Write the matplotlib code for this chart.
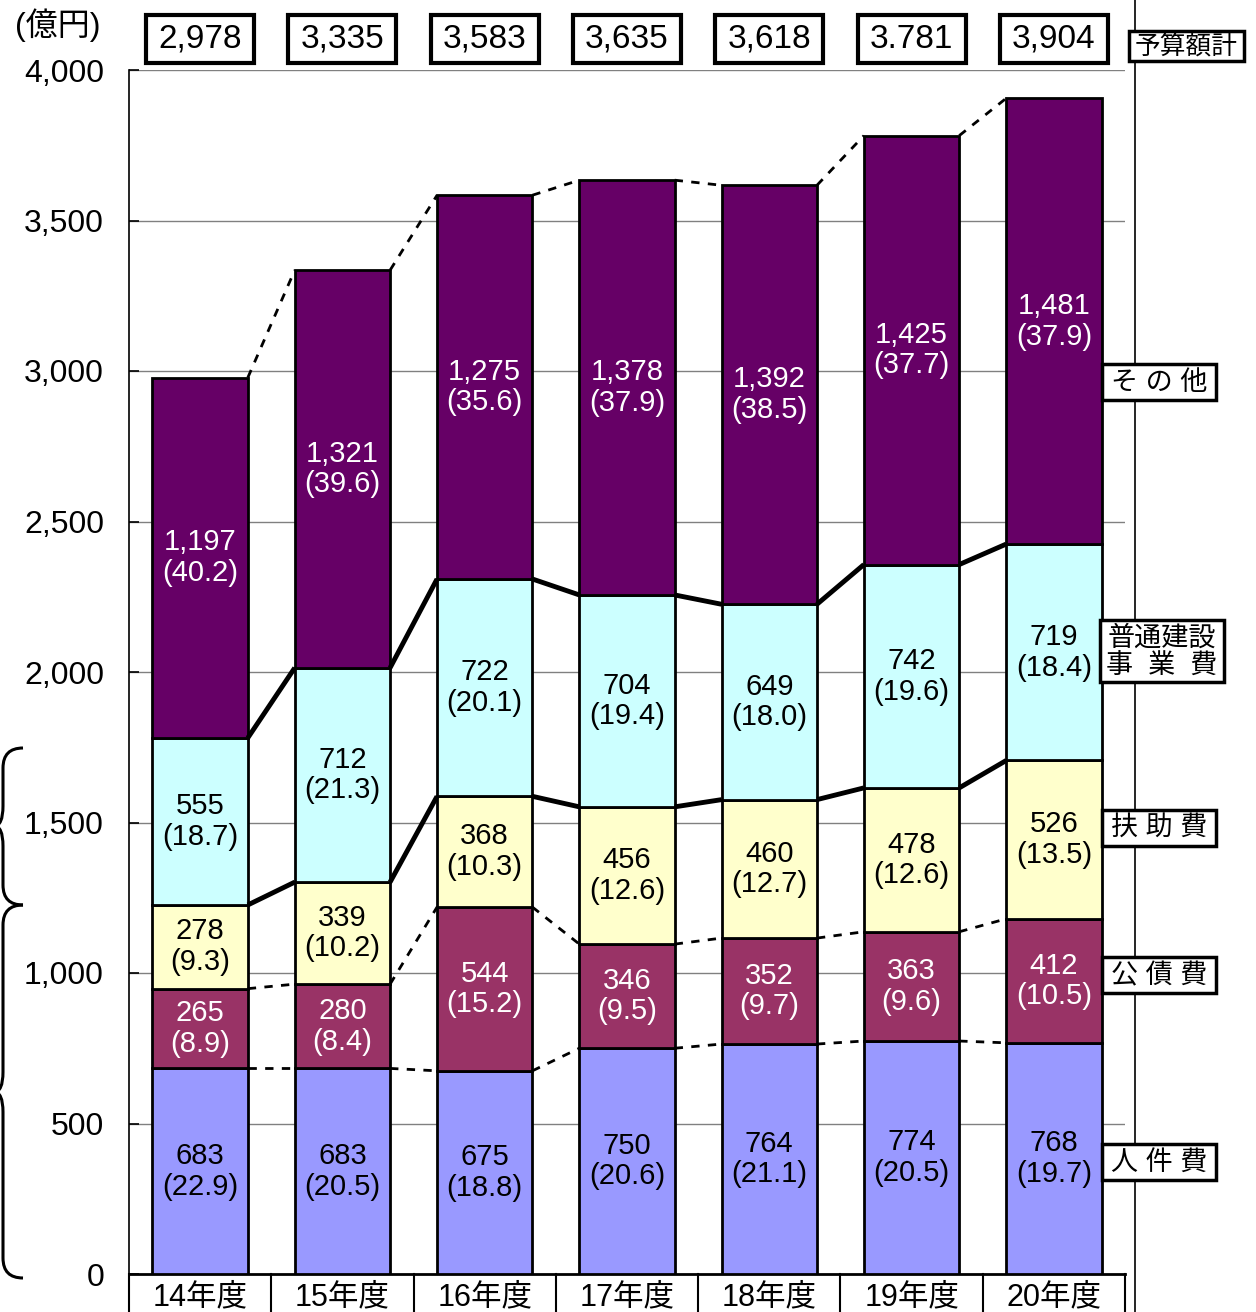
import matplotlib
matplotlib.use('Agg')
import matplotlib.pyplot as plt
from matplotlib.patches import Rectangle, PathPatch
from matplotlib.path import Path
from matplotlib.lines import Line2D
import matplotlib.transforms as mtrans

plt.rcParams['font.family'] = ['Liberation Sans', 'Noto Sans CJK JP', 'DejaVu Sans']

# ---------------- data ----------------
years = ['14年度', '15年度', '16年度', '17年度', '18年度', '19年度', '20年度']
jinken = [683, 683, 675, 750, 764, 774, 768]
jinken_pct = [22.9, 20.5, 18.8, 20.6, 21.1, 20.5, 19.7]
kousai = [265, 280, 544, 346, 352, 363, 412]
kousai_pct = [8.9, 8.4, 15.2, 9.5, 9.7, 9.6, 10.5]
fujo = [278, 339, 368, 456, 460, 478, 526]
fujo_pct = [9.3, 10.2, 10.3, 12.6, 12.7, 12.6, 13.5]
futsu = [555, 712, 722, 704, 649, 742, 719]
futsu_pct = [18.7, 21.3, 20.1, 19.4, 18.0, 19.6, 18.4]
sonota = [1197, 1321, 1275, 1378, 1392, 1425, 1481]
sonota_pct = [40.2, 39.6, 35.6, 37.9, 38.5, 37.7, 37.9]
totals = [2978, 3335, 3583, 3635, 3618, 3781, 3904]
total_labels = ['2,978', '3,335', '3,583', '3,635', '3,618', '3.781', '3,904']
yticks = [0, 500, 1000, 1500, 2000, 2500, 3000, 3500, 4000]
ytick_labels = ['0', '500', '1,000', '1,500', '2,000', '2,500', '3,000', '3,500', '4,000']

series = [
    ('人件費', jinken, jinken_pct, '#9999FF', 'black'),
    ('公債費', kousai, kousai_pct, '#993366', 'white'),
    ('扶助費', fujo, fujo_pct, '#FFFFCC', 'black'),
    ('普通建設事業費', futsu, futsu_pct, '#CCFFFF', 'black'),
    ('その他', sonota, sonota_pct, '#660066', 'white'),
]
legend_texts = ['人 件 費', '公 債 費', '扶 助 費', '普通建設\n事  業  費', 'そ の 他']
legend_centers_px = [(1159, 1162), (1159, 975), (1159, 828), (1162, 651), (1159, 382)]
legend_sizes_px = [(114, 36), (114, 36), (114, 36), (124, 62), (114, 36)]

# ---------------- figure ----------------
W, H = 1256, 1312
fig = plt.figure(figsize=(W / 100, H / 100), dpi=100)
ax_l, ax_r, ax_t, ax_b = 129, 1125, 70, 1274
ax = fig.add_axes([ax_l / W, 1 - ax_b / H, (ax_r - ax_l) / W, (ax_b - ax_t) / H])

n = len(years)
x = list(range(n))
bw = 0.67
ax.set_xlim(-0.5, n - 0.5)
ax.set_ylim(0, 4000)

# grid
for yv in yticks[1:]:
    ax.axhline(yv, color='#808080', lw=1.0, zorder=0)

bottoms = [0] * n
tops_per_layer = []
for name, vals, pcts, col, tcol in series:
    ax.bar(x, vals, bw, bottom=bottoms, color=col, edgecolor='black', lw=2.0, zorder=3)
    for i in range(n):
        yc = bottoms[i] + vals[i] / 2
        ax.text(x[i], yc, f'{vals[i]:,}\n({pcts[i]:.1f})', ha='center', va='center',
                color=tcol, fontsize=21, linespacing=1.12, zorder=5)
    bottoms = [b + v for b, v in zip(bottoms, vals)]
    tops_per_layer.append(list(bottoms))

# connecting lines: layer tops
line_styles = ['dotted', 'dotted', 'solid', 'solid', 'dotted']
for tops, st in zip(tops_per_layer, line_styles):
    for i in range(n - 1):
        xs = [x[i] + bw / 2, x[i + 1] - bw / 2]
        ys = [tops[i], tops[i + 1]]
        if st == 'solid':
            ax.plot(xs, ys, color='black', lw=3.5, solid_capstyle='butt', zorder=4)
        else:
            ax.plot(xs, ys, color='black', lw=2.0, linestyle=(0, (3, 3)), zorder=4)

# axes styling
for s in ['top', 'right']:
    ax.spines[s].set_visible(False)
ax.spines['left'].set_linewidth(1.2)
ax.spines['bottom'].set_linewidth(2.0)
ax.set_yticks(yticks)
ax.set_yticklabels(ytick_labels, fontsize=23)
ax.tick_params(axis='y', direction='in', length=7, width=1.2, pad=18)
ax.set_xticks([])

# category boxes under the axis
trans_xb = mtrans.blended_transform_factory(ax.transData, ax.transAxes)
box_h = 60 / (ax_b - ax_t)
for k in range(n + 1):
    ax.add_line(Line2D([k - 0.5, k - 0.5], [0, -box_h], transform=trans_xb,
                       color='black', lw=1.5, clip_on=False))
for i in range(n):
    ax.text(x[i], -(1297 - ax_b) / (ax_b - ax_t), years[i], transform=trans_xb,
            ha='center', va='center', fontsize=22, clip_on=False)

# total boxes on top
tb_w = 108 / ((ax_r - ax_l) / n)
tb_h = 48 / (ax_b - ax_t)
tb_yc = (ax_b - 39) / (ax_b - ax_t)
for i in range(n):
    ax.add_patch(Rectangle((x[i] - tb_w / 2, tb_yc - tb_h / 2), tb_w, tb_h,
                           transform=trans_xb, fill=False, edgecolor='black',
                           lw=3.0, clip_on=False))
    ax.text(x[i], tb_yc, total_labels[i], transform=trans_xb, ha='center', va='center',
            fontsize=24, clip_on=False)

# unit label
fig.text(58 / W, 1 - 25 / H, '(億円)', ha='center', va='center', fontsize=23)

# vertical line at right
fig.add_artist(Line2D([1135 / W, 1135 / W], [0, 1], transform=fig.transFigure,
                      color='black', lw=1.2, zorder=1))


def fig_box(cx, cy, w, h, text, fs, ty=0):
    fig.add_artist(Rectangle(((cx - w / 2) / W, 1 - (cy + h / 2) / H), w / W, h / H,
                             transform=fig.transFigure, facecolor='white',
                             edgecolor='black', lw=2.5, zorder=5))
    fig.text(cx / W, 1 - (cy + ty) / H, text, ha='center', va='center', fontsize=fs,
             zorder=6, linespacing=1.05)


fig_box(1186, 46, 115, 30, '予算額計', 18.5, ty=1)
for txt, (cx, cy), (w, h) in zip(legend_texts, legend_centers_px, legend_sizes_px):
    fig_box(cx, cy, w, h, txt, 19.5, ty=1)


# braces on the left
def brace(y_top, y_bot, y_mid, x_end=23, x_spine=3, x_tip=-6, r=20):
    pts = [(x_end, y_top), (x_spine, y_top), (x_spine, y_top + r),
           (x_spine, y_mid - r), (x_spine, y_mid), (x_tip, y_mid),
           (x_spine, y_mid), (x_spine, y_mid + r),
           (x_spine, y_bot - r), (x_spine, y_bot), (x_end, y_bot)]
    codes = [Path.MOVETO, Path.CURVE3, Path.CURVE3,
             Path.LINETO, Path.CURVE3, Path.CURVE3,
             Path.CURVE3, Path.CURVE3,
             Path.LINETO, Path.CURVE3, Path.CURVE3]
    vv = [(px / W, 1 - py / H) for px, py in pts]
    fig.add_artist(PathPatch(Path(vv, codes), transform=fig.transFigure, fill=False,
                             edgecolor='black', lw=2.2))


brace(748, 905, 826)
brace(905, 1278, 1092)

fig.savefig('out.png', dpi=100)
